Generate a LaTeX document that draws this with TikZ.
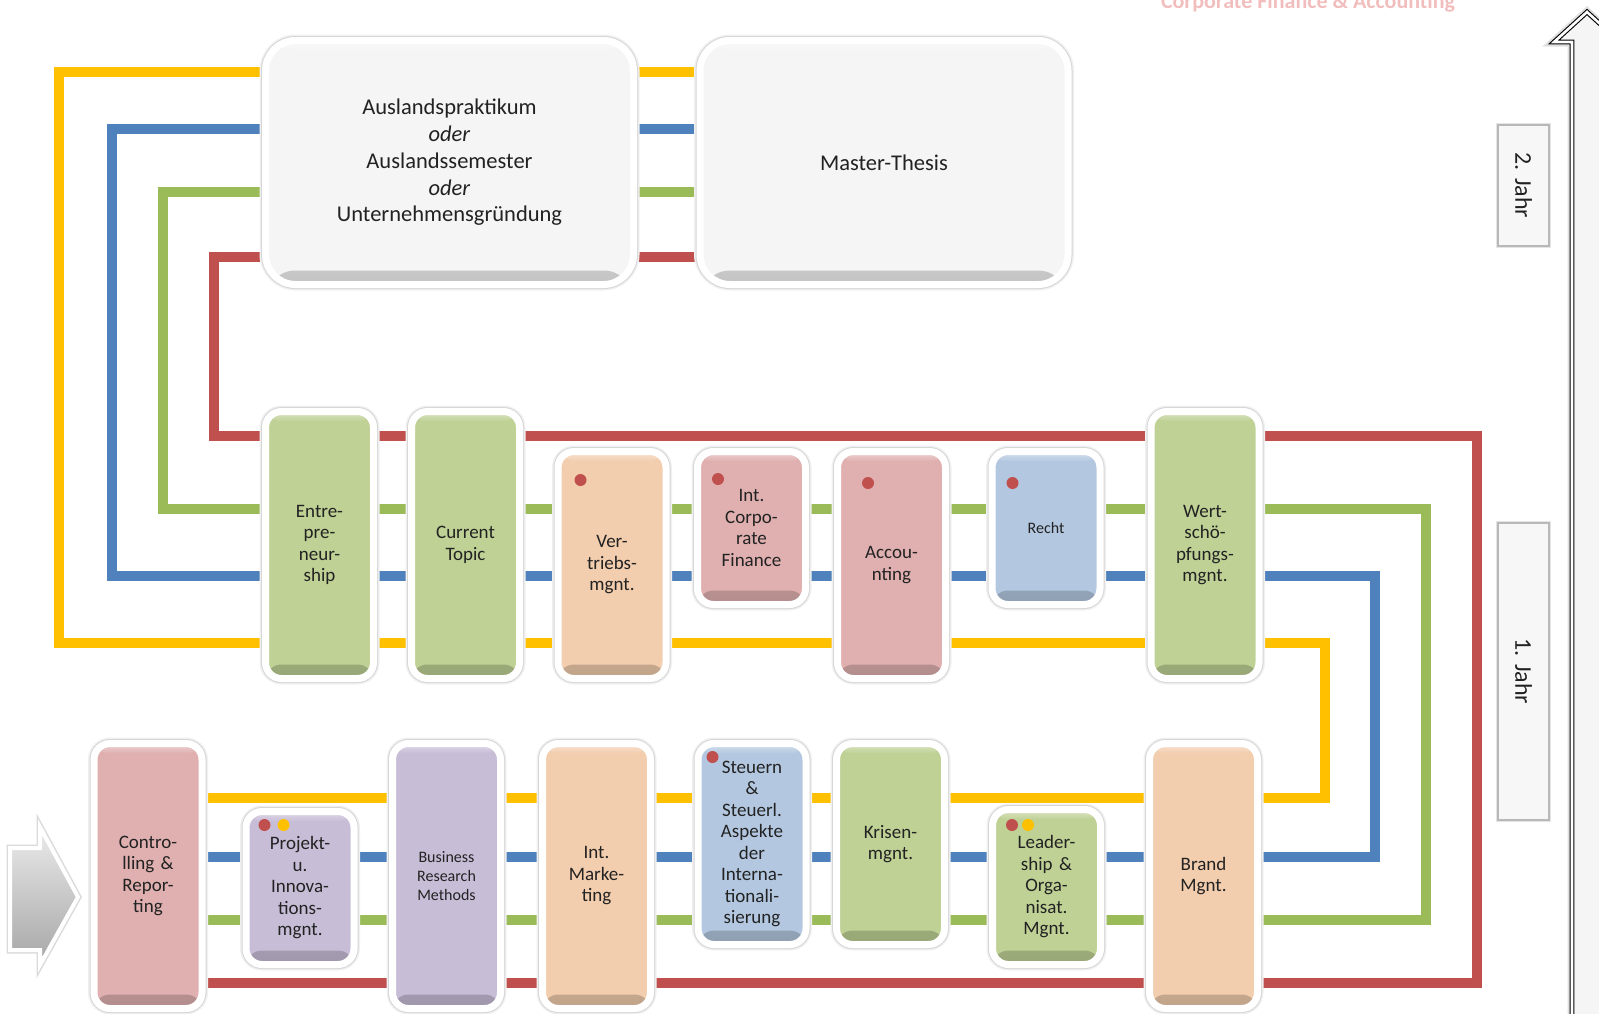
\documentclass[tikz,border=0pt]{standalone}
\usepackage{fontspec}
\setmainfont{Carlito}
\usepackage{xcolor}
\usepackage{tikz}
\usetikzlibrary{positioning,calc,backgrounds}

\definecolor{gelb}{HTML}{FFC000}
\definecolor{blau}{HTML}{4F81BD}
\definecolor{gruen}{HTML}{9BBB59}
\definecolor{rot}{HTML}{C0504D}
\definecolor{fgruen}{HTML}{BFD195}
\definecolor{frosa}{HTML}{E0B0B0}
\definecolor{fpfirsich}{HTML}{F2CDAE}
\definecolor{fblau}{HTML}{B3C8E0}
\definecolor{flila}{HTML}{C8BDD7}
\definecolor{fgrau}{HTML}{F5F5F5}
\definecolor{schrift}{HTML}{222222}
\definecolor{titelrosa}{HTML}{F2BDBD}

\newcommand\fsmod{\fontsize{19}{21.5}\selectfont}
\newcommand\fsklein{\fontsize{16}{19.4}\selectfont}
\newcommand\fsgross{\fontsize{22.5}{26.8}\selectfont}
\newcommand\fsjahr{\fontsize{24}{28}\selectfont}

\tikzset{
	track/.style={line width=10pt},
	modul/.style={draw=white, line width=7pt, rounded corners=16pt, fill=#1,
		minimum width=108pt, text width=100pt, align=center, inner sep=0pt,
		text=schrift, font=\fsmod,
		preaction={draw=black!6, line width=12pt},
		preaction={draw=black!16, line width=9pt},
		path picture={
			\shade[top color=#1, bottom color=#1!80!black]
				([yshift=14pt]path picture bounding box.south west) rectangle (path picture bounding box.south east);
			\shade[top color=#1!55!white, bottom color=#1]
				(path picture bounding box.north west) rectangle ([yshift=-10pt]path picture bounding box.north east);
		}},
	grossbox/.style={modul=fgrau, rounded corners=30pt, minimum width=368pt,
		minimum height=244pt, text width=350pt, font=\fsgross},
	jahr/.style={draw=black!28, line width=1.6pt, fill=black!3, inner sep=0pt,
		text=schrift, font=\fsjahr, preaction={draw=black!10, line width=4pt}},
	punkt/.style={fill=#1},
	pfeilrechts/.style={draw=white, line width=4pt, top color=black!8, bottom color=black!35,
		preaction={draw=black!14, line width=7pt}},
	pfeilhoch/.style={draw=black, line width=1.1pt, double=white, double distance=2.6pt,
		fill=black!4, preaction={draw=black!12, line width=9pt}}
}

\begin{document}
\begin{tikzpicture}[x=1pt,y=-1pt]
	\def\hoch{267}
	\def\hochb{265}
	\useasboundingbox (0,0) rectangle (1599,1013);
	\clip (0,0) rectangle (1599,1013);

	\node[font=\bfseries\fontsize{22}{26}\selectfont, text=titelrosa, anchor=base] (titel) at (1308,8) {Corporate Finance \& Accounting};

	% 2. Jahr
	\node[grossbox] (ausl) at (449.5,162.5) {Auslandspraktikum\\\textit{oder}\\Auslandssemester\\\textit{oder}\\Unternehmensgründung};
	\node[grossbox] (mast) at (884,162.5) {Master-Thesis};

	% 1. Jahr, obere Reihe
	\node[modul=fgruen, minimum height=\hoch] (entre) at (319.5,545) {Entre-\\pre-\\neur-\\ship};
	\node[modul=fgruen, minimum height=\hoch] (curr) at (465.5,545) {Current\\Topic};
	\node[modul=fpfirsich, minimum height=227] (vert) at (612,565) {Ver-\\triebs-\\mgnt.};
	\node[modul=frosa, minimum height=153] (intcf) at (751.5,528) {Int.\\Corpo-\\rate\\Finance};
	\node[modul=frosa, minimum height=227] (acc) at (891.5,565) {Accou-\\nting};
	\node[modul=fblau, minimum height=153, font=\fsklein] (recht) at (1046,528) {Recht};
	\node[modul=fgruen, minimum height=\hoch] (wert) at (1205,545) {Wert-\\schö-\\pfungs-\\mgnt.};

	% 1. Jahr, untere Reihe
	\node[modul=frosa, minimum height=\hochb] (ctrl) at (148,876) {Contro-\\lling \&\\Repor-\\ting};
	\node[modul=flila, minimum height=153] (proj) at (300,888) {Projekt-\\u.\\Innova-\\tions-\\mgnt.};
	\node[modul=flila, minimum height=\hochb, font=\fsklein] (brm) at (446.5,876) {Business\\Research\\Methods};
	\node[modul=fpfirsich, minimum height=\hochb] (imkt) at (596.5,876) {Int.\\Marke-\\ting};
	\node[modul=fblau, minimum height=201] (steu) at (752,844) {Steuern\\\&\\Steuerl.\\Aspekte\\der\\Interna-\\tionali-\\sierung};
	\node[modul=fgruen, minimum height=201] (kris) at (890.5,844) {Krisen-\\mgnt.};
	\node[modul=fgruen, minimum height=155] (lead) at (1046.5,887) {Leader-\\ship \&\\Orga-\\nisat.\\Mgnt.};
	\node[modul=fpfirsich, minimum height=\hochb] (brand) at (1203.5,876) {Brand\\Mgnt.};

	\fill[punkt=rot] ($(vert.north west)+(26,32)$) circle (6pt);
	\fill[punkt=rot] ($(intcf.north west)+(24,31)$) circle (6pt);
	\fill[punkt=rot] ($(acc.north west)+(34,35)$) circle (6pt);
	\fill[punkt=rot] ($(recht.north west)+(24,35)$) circle (6pt);
	\fill[punkt=rot] ($(steu.north west)+(18,17)$) circle (6pt);
	\fill[punkt=rot] ($(proj.north west)+(22,17)$) circle (6pt);
	\fill[punkt=gelb] ($(proj.north west)+(41,17)$) circle (6pt);
	\fill[punkt=rot] ($(lead.north west)+(23,19)$) circle (6pt);
	\fill[punkt=gelb] ($(lead.north west)+(39,19)$) circle (6pt);

	\node[jahr, rotate=-90, minimum width=121pt, minimum height=51pt] (jahr2) at (1523.5,185.5) {2. Jahr};
	\node[jahr, rotate=-90, minimum width=297pt, minimum height=51pt] (jahr1) at (1523.5,671.5) {1. Jahr};

	\path[pfeilrechts] (10,848) -- (40,848) -- (40,827) -- (78,897) -- (40,965) -- (40,950) -- (10,950) -- cycle;
	\path[pfeilhoch] (1572,1040) -- (1572,42) -- (1554,42) -- (1587,12) -- (1620,42) -- (1602,42) -- (1602,1040) -- cycle;

	\begin{scope}[on background layer]
		\draw[track, gelb] (mast.center |- 0,72) -- (59,72) -- (59,643) -- (1325,643) -- (1325,798) -- (ctrl.center |- 0,798);
		\draw[track, blau] (mast.center |- 0,129) -- (112,129) -- (112,576) -- (1375,576) -- (1375,857) -- (ctrl.center |- 0,857);
		\draw[track, gruen] (mast.center |- 0,192) -- (163,192) -- (163,509) -- (1426,509) -- (1426,920) -- (ctrl.center |- 0,920);
		\draw[track, rot] (mast.center |- 0,257) -- (214,257) -- (214,436) -- (1477,436) -- (1477,983) -- (ctrl.center |- 0,983);
	\end{scope}
\end{tikzpicture}
\end{document}
